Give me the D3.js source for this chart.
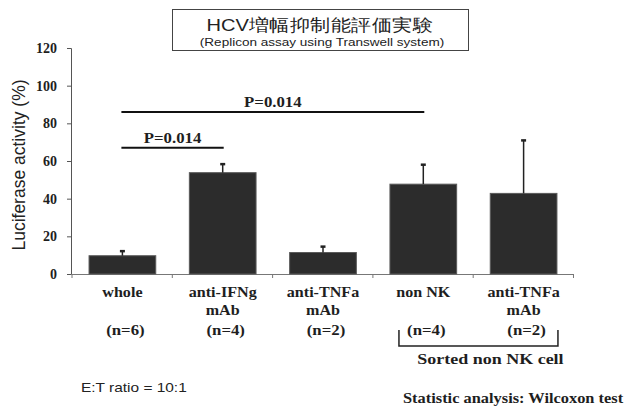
<!DOCTYPE html>
<html>
<head>
<meta charset="utf-8">
<script src="https://cdn.jsdelivr.net/npm/d3@7"></script>
<style>
  body { margin: 0; background: #fff; }
  .serif { font-family: "Liberation Serif", "DejaVu Serif", serif; font-weight: bold; fill: #1e1e1e; }
  .sans { font-family: "Liberation Sans", Arial, sans-serif; fill: #222; }
</style>
</head>
<body>
<svg id="chart" width="624" height="407"></svg>
<script>
const categories = ['whole', 'anti-IFNg', 'anti-TNFa', 'non NK', 'anti-TNFa'];
const subLabels = ['', 'mAb', 'mAb', '', 'mAb'];
const nLabels = ['(n=6)', '(n=4)', '(n=2)', '(n=4)', '(n=2)'];
const means = [9.7, 53.8, 11.4, 47.7, 42.8];
const upperErr = [12.4, 58.6, 14.8, 58.3, 71.2];
const yTicks = [0, 20, 40, 60, 80, 100, 120];
// significance: [from bar, to bar, label, height in %]
const sigPairs = [[0, 3, 'P=0.014', 86], [0, 1, 'P=0.014', 67]];

const svg = d3.select('#chart');
const x = d3.scaleBand().domain(d3.range(categories.length)).range([72, 574])
  .paddingInner(0.335).paddingOuter(0.17);
const y = d3.scaleLinear().domain([0, 120]).range([274, 48]);
const cx = i => x(i) + x.bandwidth() / 2;

// the scanned figure is a bit wider than tall, so text is stretched horizontally
function label(g, px, py, txt, cls, size, sx, anchor) {
  return g.append('text').attr('class', cls)
    .attr('transform', `translate(${px},${py}) scale(${sx},1)`)
    .attr('text-anchor', anchor || 'middle').attr('font-size', size).text(txt);
}

// title box
svg.append('rect').attr('x', 172.5).attr('y', 9.5).attr('width', 296).attr('height', 41)
  .attr('fill', 'none').attr('stroke', '#444');
label(svg, 320, 31, 'HCV増幅抑制能評価実験', 'sans', 17, 1.18)
  .attr('font-family', '"Noto Sans CJK JP", "Liberation Sans", sans-serif');
label(svg, 322, 46, '(Replicon assay using Transwell system)', 'sans', 11, 1.23);

// y axis
const yAxis = svg.append('g').attr('transform', 'translate(71,0)')
  .call(d3.axisLeft(y).tickValues(yTicks).tickSize(4).tickPadding(10));
yAxis.select('.domain').attr('stroke', '#555');
yAxis.selectAll('.tick line').attr('stroke', '#555');
yAxis.selectAll('.tick text').attr('class', 'serif').attr('font-size', 14);

// x axis: baseline plus ticks at band edges
svg.append('line').attr('x1', 71).attr('x2', 574).attr('y1', 274.5).attr('y2', 274.5).attr('stroke', '#777');
svg.append('g').selectAll('line').data(d3.range(categories.length + 1)).join('line')
  .attr('x1', i => x.range()[0] + i * x.step()).attr('x2', i => x.range()[0] + i * x.step())
  .attr('y1', 274).attr('y2', 278).attr('stroke', '#777');

// bars
svg.append('g').selectAll('rect').data(means).join('rect')
  .attr('x', (d, i) => x(i)).attr('width', x.bandwidth())
  .attr('y', d => y(d)).attr('height', d => y(0) - y(d))
  .attr('fill', '#2c2c2c').attr('stroke', '#5a5a5a');

// error bars (upper only)
const eb = svg.append('g');
eb.selectAll('line.v').data(upperErr).join('line').attr('class', 'v')
  .attr('x1', (d, i) => cx(i)).attr('x2', (d, i) => cx(i))
  .attr('y1', (d, i) => y(means[i])).attr('y2', d => y(d))
  .attr('stroke', '#222').attr('stroke-width', 1.5);
eb.selectAll('line.c').data(upperErr).join('line').attr('class', 'c')
  .attr('x1', (d, i) => cx(i) - 2.5).attr('x2', (d, i) => cx(i) + 2.5)
  .attr('y1', d => y(d) + 0.5).attr('y2', d => y(d) + 0.5)
  .attr('stroke', '#222').attr('stroke-width', 2.5);

// significance lines
sigPairs.forEach(([a, b, txt, level]) => {
  const x1 = cx(a) - 1, x2 = cx(b) + 1;
  svg.append('line').attr('x1', x1).attr('x2', x2).attr('y1', y(level)).attr('y2', y(level))
    .attr('stroke', '#111').attr('stroke-width', 2);
  label(svg, (x1 + x2) / 2, y(level) - 5, txt, 'serif', 14, 1.2);
});

// category labels
const lab = svg.append('g');
categories.forEach((c, i) => label(lab, cx(i), 297, c, 'serif', 14, 1.15));
subLabels.forEach((c, i) => label(lab, cx(i), 315, c, 'serif', 14, 1.15));
nLabels.forEach((c, i) => label(lab, cx(i) + 3, 335, c, 'serif', 15, 1.12).attr('font-weight', 600));

// bracket for sorted non NK cells
const bx1 = x(3) + 9, bx2 = x(4) + x.bandwidth() + 1;
svg.append('path').attr('d', `M${bx1},330V346H${bx2}V330`)
  .attr('fill', 'none').attr('stroke', '#222').attr('stroke-width', 1.5);
label(svg, (bx1 + bx2) / 2 + 12, 364, 'Sorted non NK cell', 'serif', 15, 1.2);

// y label
svg.append('text').attr('class', 'sans').attr('transform', 'translate(25,165) rotate(-90)')
  .attr('text-anchor', 'middle').attr('font-size', 17.5).text('Luciferase activity (%)');

// footnotes
label(svg, 81, 392, 'E:T ratio = 10:1', 'sans', 13, 1.19, 'start');
label(svg, 403, 403, 'Statistic analysis: Wilcoxon test', 'serif', 14.5, 1.13, 'start');
</script>
</body>
</html>
